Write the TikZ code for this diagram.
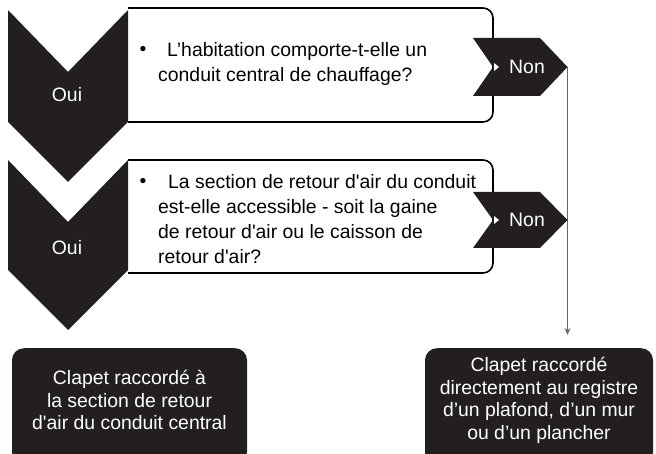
\documentclass[tikz,border=0pt]{standalone}
\usepackage{fontspec}
\setmainfont{Liberation Sans}
\usetikzlibrary{arrows, arrows.meta}
\usetikzlibrary{calc}
\definecolor{darkfill}{HTML}{231F20}
\definecolor{linkgray}{HTML}{666666}
\newcommand{\apos}{\textquotesingle}

\begin{document}
\begin{tikzpicture}[x=1pt, y=-1pt,
    every node/.style={font=\fontsize{19.4}{25}\selectfont, inner sep=0pt},
    question/.style={draw=black, line width=1.6pt, rounded corners=10pt},
    result/.style={fill=darkfill, rounded corners=12pt, text=white, align=center,
      font=\fontsize{19.4}{22.5}\selectfont, minimum height=116pt},
    link/.style={draw=linkgray, line width=1.2pt, -{Stealth[length=7pt, width=6pt]}}]
      \useasboundingbox (0,0) rectangle (656,454);
      \clip (0,0) rectangle (656,454);

      % question boxes
      \draw[question] (128,8) -- (493,8) -- (493,122) -- (128,122);
      \draw[question] (128,160) -- (493,160) -- (493,273) -- (128,273);

      \node (b1) at (143,51) {\textbullet};
      \node[anchor=west, align=left] (q1) at (158,64) {\hspace{9pt}L’habitation comporte-t-elle un\\conduit central de chauffage?};
      \node (b2) at (143,183) {\textbullet};
      \node[anchor=west, align=left] (q2) at (158,219) {\hspace{10pt}La section de retour d\apos air du conduit\\est-elle accessible - soit la gaine\\de retour d\apos air ou le caisson de\\retour d\apos air?};

      % Oui chevrons
      \fill[darkfill] (8,10) -- (68,72) -- (128,10) -- (128,122) -- (68,182) -- (8,122) -- cycle;
      \fill[darkfill] (8,160) -- (68,222) -- (128,160) -- (128,270) -- (68,330) -- (8,270) -- cycle;
      \node[text=white] (oui1) at (67,95) {Oui};
      \node[text=white] (oui2) at (67,248) {Oui};

      % results
      \node[result, minimum width=235pt, text depth=12pt, anchor=north] (clapetret) at (129.5,348) {Clapet raccordé à\\la section de retour\\d\apos air du conduit central};
      \node[result, minimum width=228pt, text depth=16pt, anchor=north] (clapetdir) at (539,348) {Clapet raccordé\\directement au registre\\d’un plafond, d’un mur\\ou d’un plancher};

      % Non connector
      \coordinate (tip1) at (567.5,67);
      \coordinate (tip2) at (567.5,220);
      \draw[link, shorten >=13pt] (tip1) -- (tip1 |- clapetdir.north);

      \fill[darkfill] (473,38) -- (540,38) -- (tip1) -- (540,96) -- (473,96) -- (493,67) -- cycle;
      \fill[white] (494,63) -- (499,67) -- (494,71) -- cycle;
      \node[text=white] (non1) at (527,67) {Non};
      \fill[darkfill] (473,192) -- (540,192) -- (tip2) -- (540,248) -- (473,248) -- (493,220) -- cycle;
      \fill[white] (494,216) -- (499,220) -- (494,224) -- cycle;
      \node[text=white] (non2) at (527,220) {Non};
    \end{tikzpicture}
\end{document}
